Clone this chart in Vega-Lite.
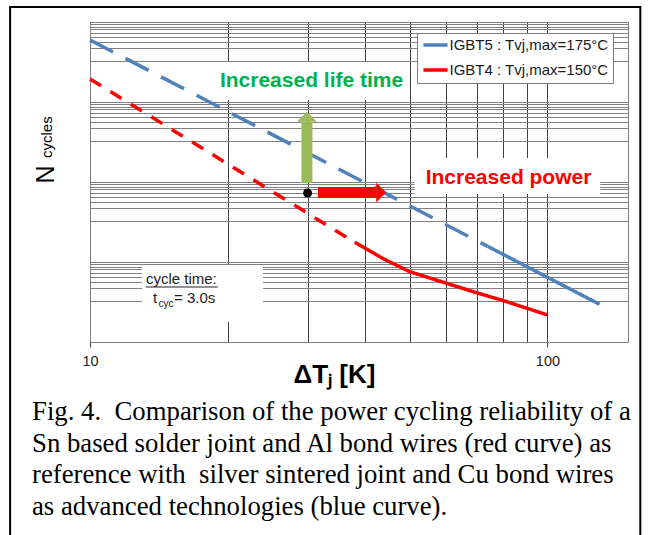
{
  "$schema": "https://vega.github.io/schema/vega-lite/v6.json",
  "width": 538,
  "height": 320,
  "autosize": "none",
  "padding": {"left": 90, "top": 22, "right": 26, "bottom": 193},
  "background": "white",
  "config": {
    "view": {"stroke": "#808080", "strokeWidth": 1},
    "font": "Liberation Sans"
  },
  "title": {
    "text": [
      "Fig. 4. \u00a0Comparison of the power cycling reliability of a",
      "Sn based solder joint and Al bond wires (red curve) as",
      "reference with \u00a0silver sintered joint and Cu bond wires",
      "as advanced technologies (blue curve)."
    ],
    "orient": "bottom",
    "anchor": "start",
    "frame": "group",
    "dx": -58,
    "offset": -118,
    "font": "Liberation Serif",
    "fontSize": 26.75,
    "fontWeight": "normal",
    "color": "#000000",
    "lineHeight": 31.6,
    "baseline": "alphabetic"
  },
  "encoding": {
    "x": {
      "field": "dT",
      "type": "quantitative",
      "scale": {"type": "log", "domain": [10, 150], "nice": false},
      "axis": {
        "values": [10, 20, 30, 40, 50, 60, 70, 80, 90, 100],
        "grid": true,
        "gridColor": "#404040",
        "gridWidth": 1,
        "gridOpacity": 1,
        "labelExpr": "datum.value == 10 || datum.value == 100 ? '' + datum.value : ''",
        "labelOverlap": false,
        "labelFlush": false,
        "labelFont": "Liberation Sans",
        "labelFontSize": 14.5,
        "labelColor": "#222222",
        "labelPadding": 7,
        "tickSize": 5,
        "tickColor": "#404040",
        "tickOpacity": {"condition": {"test": "datum.value == 10 || datum.value == 100", "value": 1}, "value": 0},
        "domainColor": "#808080",
        "title": "ΔTⱼ [K]",
        "titleFont": "Liberation Sans",
        "titleFontSize": 26,
        "titleFontWeight": "bold",
        "titleColor": "#000000",
        "titleX": 244,
        "titleY": 40,
        "titleAlign": "center",
        "titleBaseline": "alphabetic"
      }
    },
    "y": {
      "field": "N",
      "type": "quantitative",
      "scale": {"type": "log", "domain": [1, 10000], "nice": false},
      "axis": {
        "values": [10000, 9360, 8760, 8180, 7370, 6570, 5690, 4690, 3290, 1000, 936, 876, 818, 737, 657, 569, 469, 329, 100, 93.6, 87.6, 81.8, 73.7, 65.7, 56.9, 46.9, 32.9, 10, 9.36, 8.76, 8.18, 7.37, 6.57, 5.69, 4.69, 3.29, 1],
        "grid": true,
        "gridColor": "#808080",
        "gridWidth": 1,
        "gridOpacity": 1,
        "labels": false,
        "ticks": false,
        "domainColor": "#808080",
        "title": "N",
        "titleFont": "Liberation Sans",
        "titleFontSize": 25,
        "titleFontWeight": "normal",
        "titleColor": "#000000",
        "titleAngle": 270,
        "titleAlign": "left",
        "titleBaseline": "alphabetic",
        "titleX": -37,
        "titleY": 161
      }
    }
  },
  "layer": [
    {
      "data": {"values": [
        {"dT": 18.94, "dT2": 48.97, "N": 3162, "N2": 1059},
        {"dT": 51.2, "dT2": 130.5, "N": 199.5, "N2": 70.8},
        {"dT": 13.0, "dT2": 23.9, "N": 9.17, "N2": 1.778}
      ]},
      "mark": {"type": "rect", "fill": "white", "stroke": null},
      "encoding": {"x2": {"field": "dT2"}, "y2": {"field": "N2"}}
    },
    {
      "data": {"values": [
        {"dT": 10, "N": 5957, "series": "IGBT5 : Tvj,max=175°C", "seg": "b1"},
        {"dT": 74, "N": 15.7, "series": "IGBT5 : Tvj,max=175°C", "seg": "b1"},
        {"dT": 74, "N": 15.7, "series": "IGBT5 : Tvj,max=175°C", "seg": "b2"},
        {"dT": 130, "N": 2.96, "series": "IGBT5 : Tvj,max=175°C", "seg": "b2"},
        {"dT": 10, "N": 1940, "series": "IGBT4 : Tvj,max=150°C", "seg": "r1"},
        {"dT": 37.9, "N": 17.6, "series": "IGBT4 : Tvj,max=150°C", "seg": "r1"},
        {"dT": 37.9, "N": 17.6, "series": "IGBT4 : Tvj,max=150°C", "seg": "r2"},
        {"dT": 43.6, "N": 11.1, "series": "IGBT4 : Tvj,max=150°C", "seg": "r2"},
        {"dT": 50, "N": 7.56, "series": "IGBT4 : Tvj,max=150°C", "seg": "r2"},
        {"dT": 60.2, "N": 5.42, "series": "IGBT4 : Tvj,max=150°C", "seg": "r2"},
        {"dT": 70, "N": 4.13, "series": "IGBT4 : Tvj,max=150°C", "seg": "r2"},
        {"dT": 80.2, "N": 3.28, "series": "IGBT4 : Tvj,max=150°C", "seg": "r2"},
        {"dT": 100, "N": 2.18, "series": "IGBT4 : Tvj,max=150°C", "seg": "r2"}
      ]},
      "mark": {"type": "line", "strokeWidth": 3.5, "strokeCap": "butt"},
      "encoding": {
        "color": {
          "field": "series",
          "type": "nominal",
          "scale": {"domain": ["IGBT5 : Tvj,max=175°C", "IGBT4 : Tvj,max=150°C"], "range": ["#4F81BD", "#FF0000"]},
          "legend": {
            "orient": "none",
            "legendX": 327,
            "legendY": 11,
            "title": null,
            "fillColor": "white",
            "strokeColor": "#7F7F7F",
            "padding": 4.5,
            "symbolType": "stroke",
            "symbolSize": 580,
            "symbolStrokeWidth": 3.5,
            "symbolOffset": 0,
            "clipHeight": 15,
            "rowPadding": 9,
            "labelFont": "Liberation Sans",
            "labelFontSize": 15,
            "labelColor": "#1A1A1A",
            "labelOffset": 0,
            "labelLimit": 300
          }
        },
        "strokeDash": {
          "field": "seg",
          "type": "nominal",
          "scale": {"domain": ["b1", "b2", "r1", "r2"], "range": [[26, 14], [1, 0], [13, 11], [1, 0]]},
          "legend": null
        }
      }
    },
    {
      "data": {"values": [{"dT": 29.8, "N": 97.2, "N2": 567}]},
      "mark": {"type": "rule", "color": "#9BBB59", "strokeWidth": 11, "strokeCap": "butt"},
      "encoding": {"y2": {"field": "N2"}}
    },
    {
      "data": {"values": [{"dT": 29.8, "N": 655}]},
      "mark": {"type": "point", "shape": "M-1,0.5L1,0.5L0,-0.5Z", "size": 400, "filled": true, "color": "#9BBB59", "opacity": 1, "strokeWidth": 0}
    },
    {
      "data": {"values": [{"dT": 31.5, "dT2": 42.3, "N": 73.9}]},
      "mark": {"type": "rule", "color": "#FF0000", "strokeWidth": 11, "strokeCap": "butt"},
      "encoding": {"x2": {"field": "dT2"}}
    },
    {
      "data": {"values": [{"dT": 43.3, "N": 73.9}]},
      "mark": {"type": "point", "shape": "M-0.5,-1L0.5,0L-0.5,1Z", "size": 400, "filled": true, "color": "#FF0000", "opacity": 1, "strokeWidth": 0}
    },
    {
      "data": {"values": [{"dT": 29.9, "N": 72.9}]},
      "mark": {"type": "point", "shape": "circle", "size": 80, "filled": true, "color": "#000000", "opacity": 1}
    },
    {
      "data": {"values": [{"dT": 30.5, "N": 1539, "label": "Increased life time"}]},
      "mark": {"type": "text", "font": "Liberation Sans", "fontSize": 21, "fontWeight": "bold", "color": "#00B050", "align": "center", "baseline": "alphabetic"},
      "encoding": {"text": {"field": "label"}}
    },
    {
      "data": {"values": [{"dT": 82.2, "N": 94.4, "label": "Increased power"}]},
      "mark": {"type": "text", "font": "Liberation Sans", "fontSize": 21, "fontWeight": "bold", "color": "#FF0000", "align": "center", "baseline": "alphabetic"},
      "encoding": {"text": {"field": "label"}}
    },
    {
      "data": {"values": [
        {"dT": 13.25, "N": 5.31, "label": "cycle time:"},
        {"dT": 13.73, "N": 3.073, "label": "t"},
        {"dT": 15.26, "N": 3.073, "label": "= 3.0s"}
      ]},
      "mark": {"type": "text", "font": "Liberation Sans", "fontSize": 15, "color": "#222222", "align": "left", "baseline": "alphabetic"},
      "encoding": {"text": {"field": "label"}}
    },
    {
      "data": {"values": [{"dT": 14.11, "N": 2.738, "label": "cyc"}]},
      "mark": {"type": "text", "font": "Liberation Sans", "fontSize": 10, "color": "#222222", "align": "left", "baseline": "alphabetic"},
      "encoding": {"text": {"field": "label"}}
    },
    {
      "data": {"values": [{"dT": 13.25, "dT2": 19.03, "N": 4.87}]},
      "mark": {"type": "rule", "color": "#222222", "strokeWidth": 1},
      "encoding": {"x2": {"field": "dT2"}}
    },
    {
      "data": {"values": [{"dT": 8.26, "N": 199.5, "label": "cycles"}]},
      "mark": {"type": "text", "font": "Liberation Sans", "fontSize": 15, "color": "#000000", "align": "left", "baseline": "alphabetic", "angle": 270},
      "encoding": {"text": {"field": "label"}}
    },
    {
      "data": {"values": [{"dT": 6.689, "dT2": 159.6, "N": 15399, "N2": 0.003652}]},
      "mark": {"type": "rect", "filled": false, "stroke": "#000000", "strokeWidth": 2},
      "encoding": {"x2": {"field": "dT2"}, "y2": {"field": "N2"}}
    }
  ]
}
